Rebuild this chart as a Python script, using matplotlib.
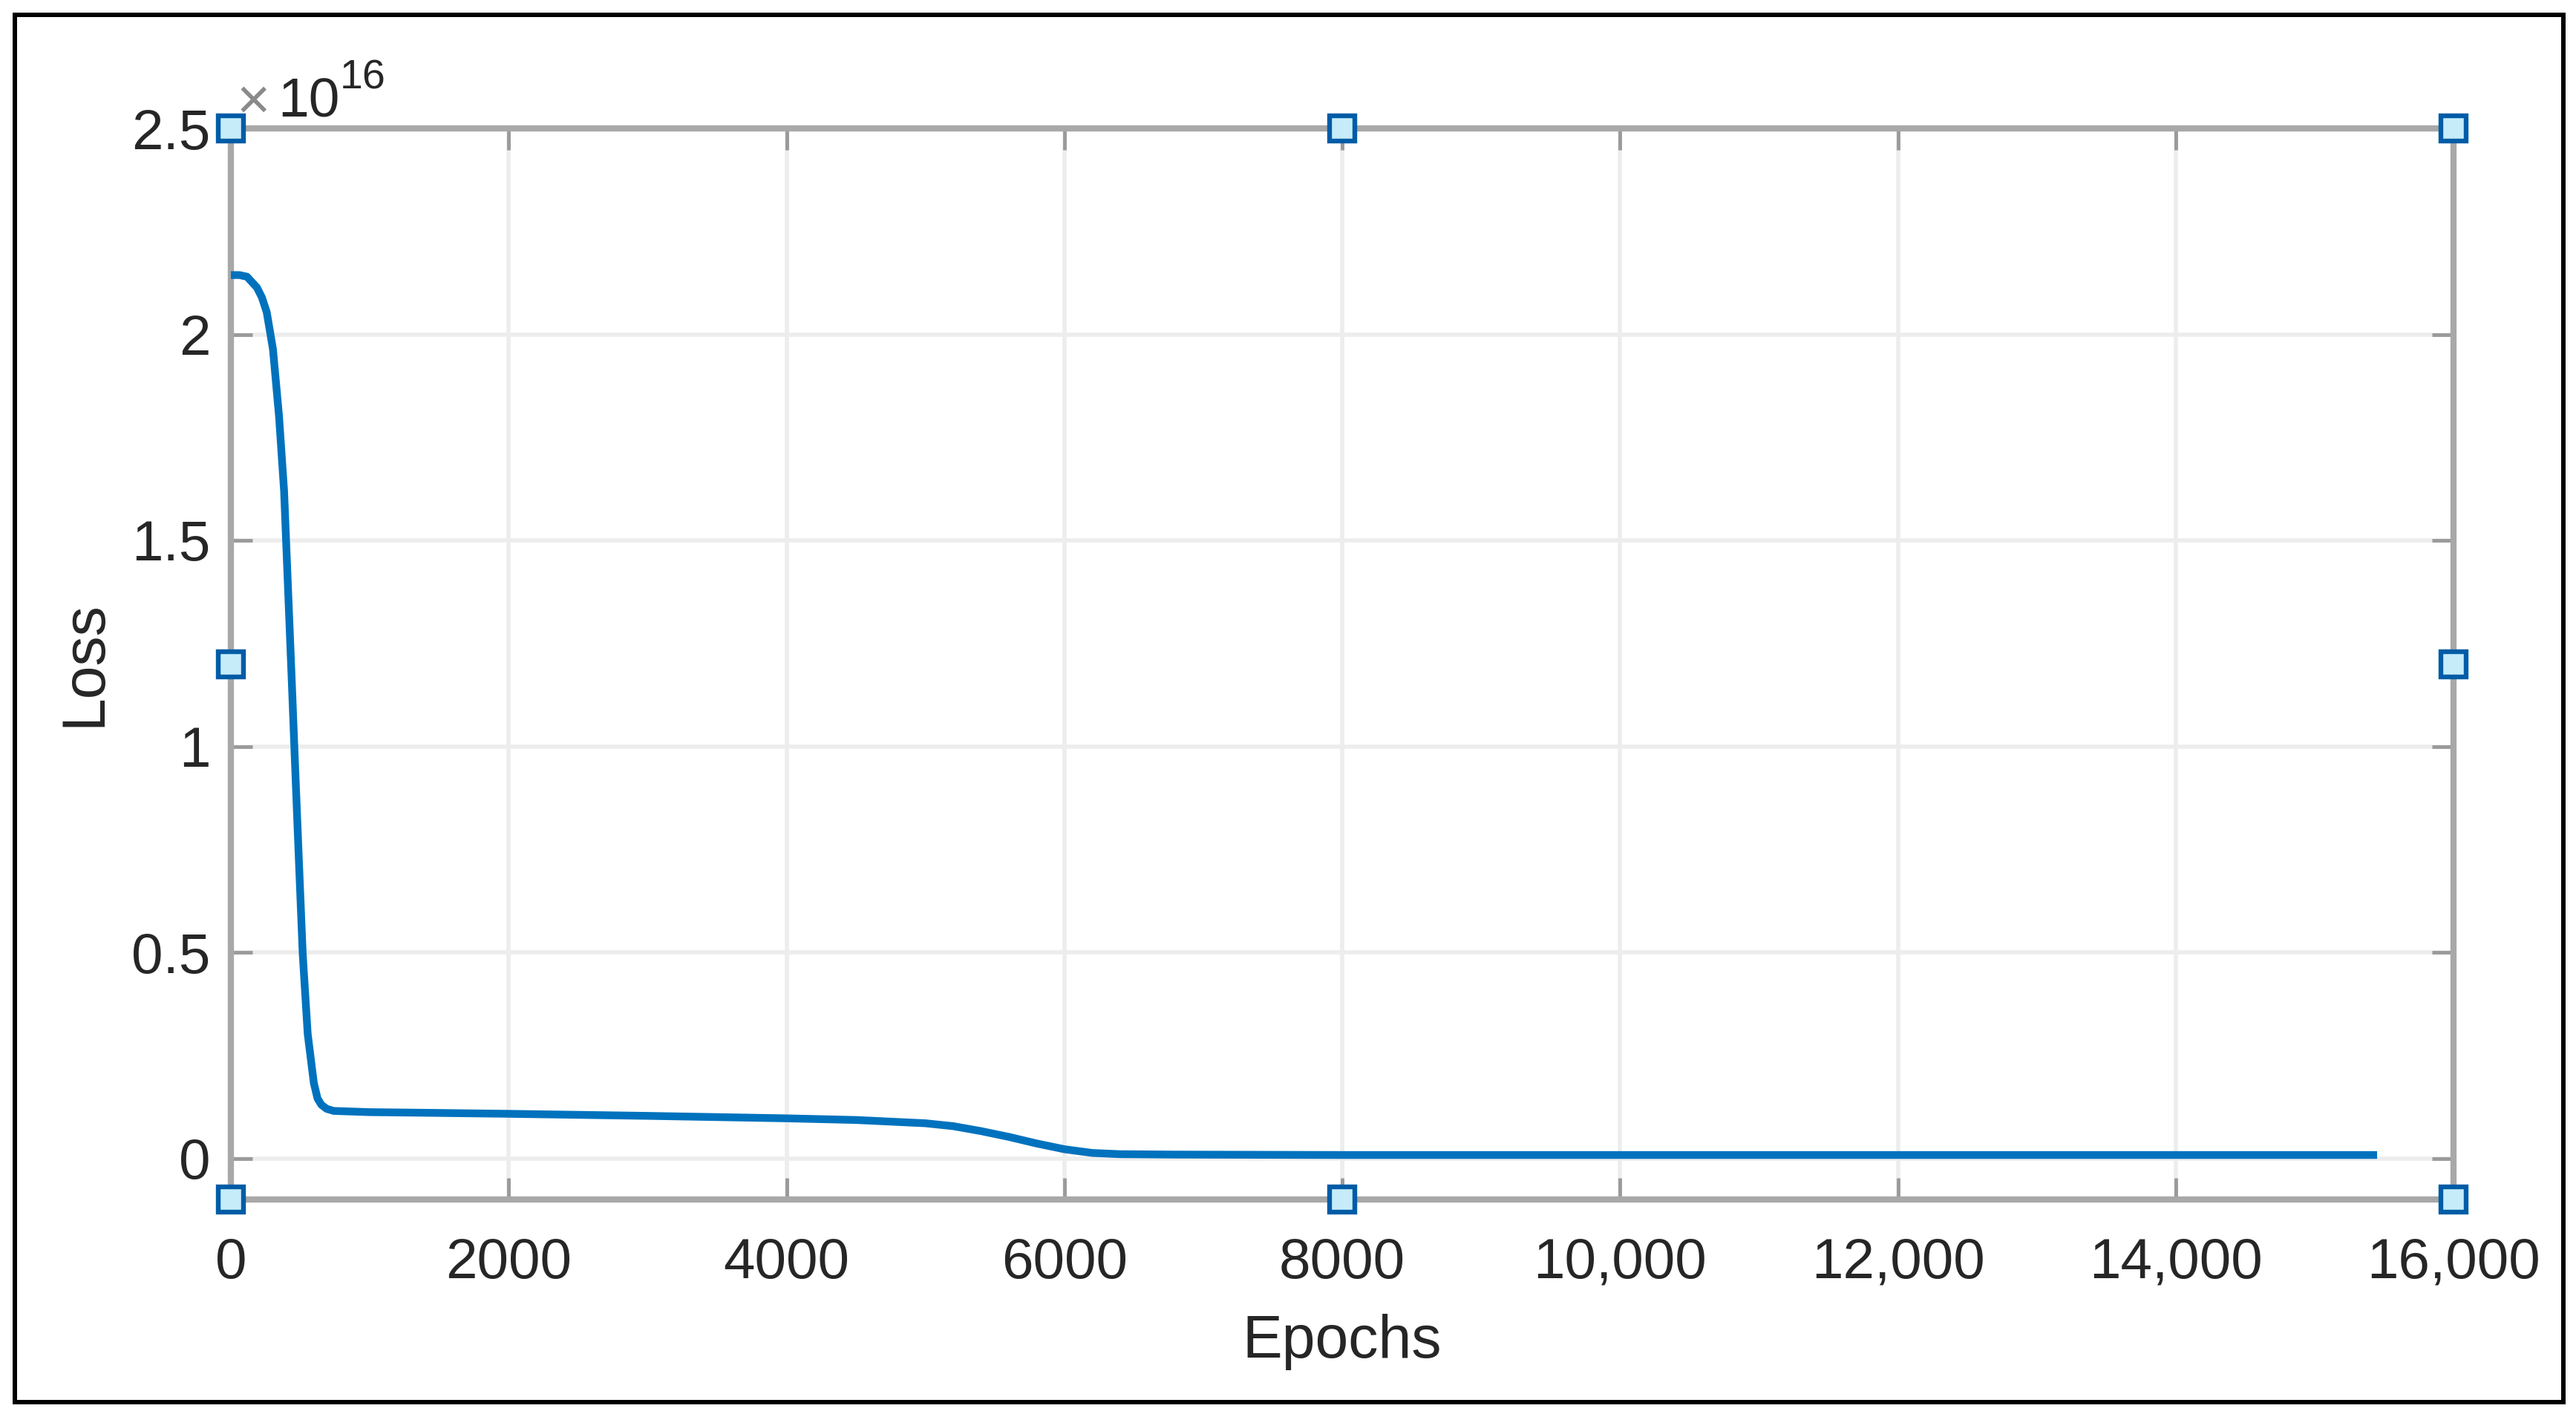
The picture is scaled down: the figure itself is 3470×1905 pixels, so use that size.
import matplotlib
matplotlib.use("Agg")
import matplotlib.pyplot as plt
from matplotlib.patches import Rectangle

# ---------------- data ----------------
epochs = [0, 62, 116, 187, 223, 258, 303, 347, 383, 410, 437, 463, 490, 517,
          553, 597, 624, 651, 690, 740, 1000, 1275, 2000, 3000, 4000, 4500,
          5000, 5200, 5400, 5600, 5800, 6000, 6200, 6400, 6800, 8000, 10000,
          12000, 14000, 15450]
loss = [2.144e16, 2.144e16, 2.140e16, 2.114e16, 2.090e16, 2.054e16, 1.964e16,
        1.800e16, 1.620e16, 1.395e16, 1.170e16, 0.946e16, 0.720e16, 0.497e16,
        0.302e16, 0.183e16, 0.145e16, 0.130e16, 0.120e16, 0.115e16, 0.112e16,
        0.111e16, 0.108e16, 0.103e16, 0.097e16, 0.093e16, 0.085e16, 0.078e16,
        0.066e16, 0.052e16, 0.036e16, 0.022e16, 0.013e16, 0.010e16, 0.009e16,
        0.008e16, 0.008e16, 0.008e16, 0.008e16, 0.008e16]

x_ticks = [0, 2000, 4000, 6000, 8000, 10000, 12000, 14000, 16000]
x_tick_labels = ["0", "2000", "4000", "6000", "8000", "10,000", "12,000",
                 "14,000", "16,000"]
y_ticks = [0, 0.5e16, 1.0e16, 1.5e16, 2.0e16, 2.5e16]
y_tick_labels = ["0", "0.5", "1", "1.5", "2", "2.5"]
x_label = "Epochs"
y_label = "Loss"
exponent_base = "10"
exponent_power = "16"

# ---------------- style ----------------
plt.rcParams["font.family"] = ["Liberation Sans", "DejaVu Sans"]

TEXT = "#262626"
AXIS = "#A8A8A8"
TICK = "#9A9A9A"
GRID = "#EDEDED"
LINE = "#0072BD"

W, H, DPI = 3470, 1905, 100
fig = plt.figure(figsize=(W / DPI, H / DPI), dpi=DPI)
fig.patch.set_facecolor("white")

# axes placement in pixels (from top-left)
L, R, T, B = 311, 3305, 173, 1616
ax = fig.add_axes([L / W, 1 - B / H, (R - L) / W, (B - T) / H])

ax.plot(epochs, loss, color=LINE, lw=7.5, solid_capstyle="butt",
        solid_joinstyle="round", zorder=3)

ax.set_xlim(0, 16000)
ax.set_ylim(-0.1e16, 2.5e16)
ax.set_xticks(x_ticks, x_tick_labels)
ax.set_yticks(y_ticks, y_tick_labels)

ax.set_axisbelow(True)
ax.grid(True, color=GRID, lw=4.0)

for s in ax.spines.values():
    s.set_color(AXIS)
    s.set_linewidth(6.0)

ax.tick_params(axis="both", direction="in", top=True, right=True,
               length=21, width=3.5, color=TICK, labelcolor=TEXT,
               labelsize=55)
ax.tick_params(axis="x", pad=37)
ax.tick_params(axis="y", pad=20)

ax.set_xlabel(x_label, fontsize=58, color=TEXT)
ax.xaxis.set_label_coords(0.5, -0.1067)
ax.set_ylabel(y_label, fontsize=58, color=TEXT)
ax.yaxis.set_label_coords(-0.0530, 0.5)

# exponent text above the y axis ("×10^16" as drawn by MATLAB)
ax.text(0.0025, 1.0095, "\u00d7", transform=ax.transAxes,
        ha="left", va="baseline", fontsize=56, color="#8A8A8A")
ax.text(0.0210, 1.0104, exponent_base, transform=ax.transAxes,
        ha="left", va="baseline", fontsize=54, color=TEXT)
ax.text(0.0490, 1.0370, exponent_power, transform=ax.transAxes,
        ha="left", va="baseline", fontsize=40, color=TEXT)

# selection handles (corners and edge midpoints of the axes)
hx = [0, 0.5, 1, 0, 1, 0, 0.5, 1]
hy = [1, 1, 1, 0.5, 0.5, 0, 0, 0]
ax.plot(hx, hy, transform=ax.transAxes, linestyle="none", marker="s",
        markersize=24.5, markeredgewidth=4.6, markeredgecolor="#005CA6",
        markerfacecolor="#C6ECFA", clip_on=False, zorder=10)

# outer black frame
fig.patches.append(Rectangle((20 / W, 1 - 1888.5 / H),
                             (3453 - 20) / W, (1888.5 - 19.5) / H,
                             transform=fig.transFigure, fill=False,
                             edgecolor="black", lw=4.3))

fig.savefig("out.png", dpi=DPI, facecolor="white")
